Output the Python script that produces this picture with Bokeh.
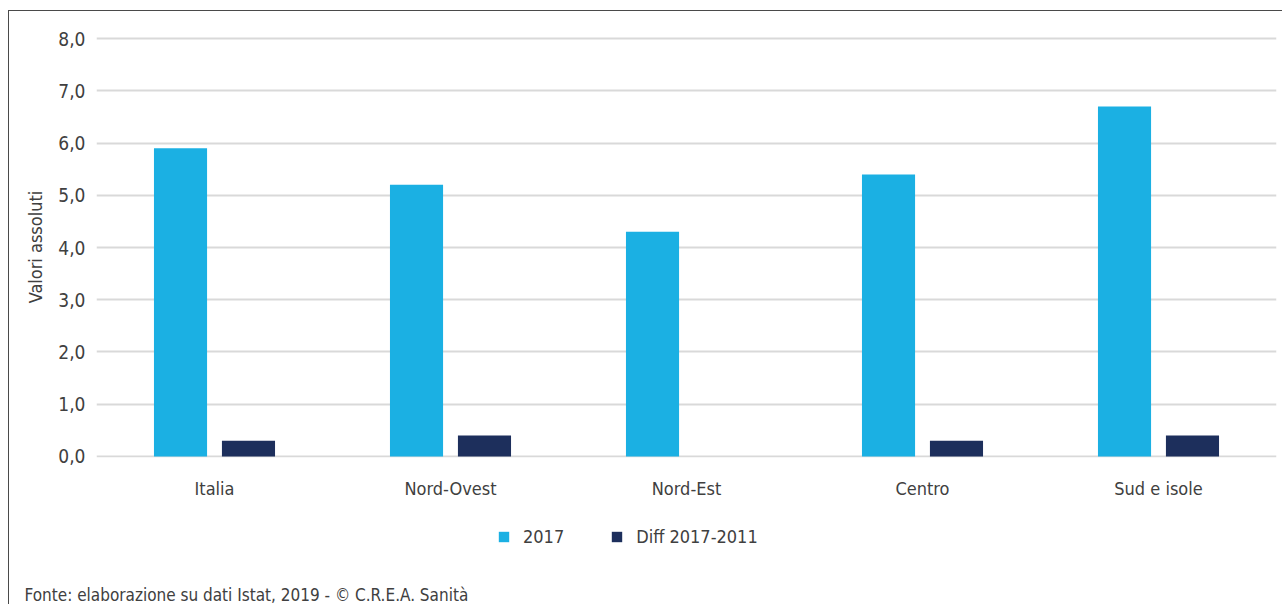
from bokeh.plotting import figure
from bokeh.layouts import column
from bokeh.models import ColumnDataSource, FactorRange, Range1d, Legend, LegendItem, Title
from bokeh.transform import dodge
from bokeh.embed import file_html
from bokeh.resources import INLINE
from bokeh.models import CustomJSTickFormatter

categories = ["Italia", "Nord-Ovest", "Nord-Est", "Centro", "Sud e isole"]
values_2017 = [5.9, 5.2, 4.3, 5.4, 6.7]
values_diff = [0.3, 0.4, None, 0.3, 0.4]
series_names = ["2017", "Diff 2017-2011"]
y_ticks = [0, 1, 2, 3, 4, 5, 6, 7, 8]
source_note = "Fonte: elaborazione su dati Istat, 2019 - © C.R.E.A. Sanità"

FONT = "'Liberation Sans Narrow', 'DejaVu Sans Condensed', 'Roboto', sans-serif"
TXT = "#404040"
C1 = "#1BB0E3"
C2 = "#1D2F5C"

src = ColumnDataSource(dict(
    cat=categories,
    v2017=values_2017,
    vdiff=[float("nan") if v is None else v for v in values_diff],
))

p = figure(
    x_range=FactorRange(*categories, range_padding=0),
    y_range=Range1d(-0.02, 8.04),
    frame_width=1180, frame_height=421,
    min_border_left=87, min_border_right=6, min_border_top=25, min_border_bottom=50,
    output_backend="svg", toolbar_location=None,
)
p.outline_line_color = None

r1 = p.vbar(x=dodge("cat", -0.144, range=p.x_range), top="v2017", width=0.225,
            source=src, fill_color=C1, line_color=None)
r2 = p.vbar(x=dodge("cat", 0.144, range=p.x_range), top="vdiff", width=0.225,
            source=src, fill_color=C2, line_color=None)

p.xgrid.grid_line_color = None
p.ygrid.grid_line_color = "#D9D9D9"
p.ygrid.grid_line_width = 2
p.ygrid.ticker = y_ticks
p.yaxis.ticker = y_ticks
p.yaxis.formatter = CustomJSTickFormatter(code="return tick.toFixed(1).replace('.', ',');")

for ax in (p.xaxis, p.yaxis):
    ax.axis_line_color = None
    ax.major_tick_line_color = None
    ax.minor_tick_line_color = None
    ax.major_label_text_font = FONT
    ax.major_label_text_color = TXT
p.yaxis.major_label_text_font_size = "19px"
p.xaxis.major_label_text_font_size = "18px"
p.yaxis.major_label_standoff = 5
p.xaxis.major_label_standoff = 14
p.yaxis.axis_label = "Valori assoluti"
p.yaxis.axis_label_text_font = FONT
p.yaxis.axis_label_text_font_size = "18px"
p.yaxis.axis_label_text_font_style = "normal"
p.yaxis.axis_label_text_color = TXT
p.yaxis.axis_label_standoff = 9

# legend + source note strip (frame aligned with the chart above)
p2 = figure(x_range=Range1d(0, 1180), y_range=Range1d(0, 75),
            frame_width=1180, frame_height=75,
            min_border_left=87, min_border_right=6, min_border_top=0, min_border_bottom=0,
            output_backend="svg", toolbar_location=None)
p2.axis.visible = False
p2.grid.visible = False
p2.outline_line_color = None
d1 = p2.vbar(x=[0], top=[0], width=0, fill_color=C1, line_color=None)
d2 = p2.vbar(x=[0], top=[0], width=0, fill_color=C2, line_color=None)
legend = Legend(items=[LegendItem(label=series_names[0], renderers=[d1]),
                       LegendItem(label=series_names[1], renderers=[d2])],
                orientation="horizontal", location=(401, 35),
                glyph_width=13, glyph_height=13, label_standoff=13, spacing=46,
                padding=0, margin=0, border_line_color=None, background_fill_alpha=0,
                label_text_font=FONT, label_text_font_size="18px", label_text_color=TXT)
p2.add_layout(legend, "center")
p2.add_layout(Title(text=source_note, align="left", offset=-72, standoff=0,
                    text_font=FONT, text_font_size="17px", text_font_style="normal",
                    text_color=TXT), "below")

layout = column(p, p2, spacing=0,
                styles={"margin-left": "8px", "margin-top": "10px",
                        "border-left": "1px solid #4a4a4a", "border-top": "1px solid #4a4a4a"})

open("out.html", "w").write(file_html(layout, INLINE))
